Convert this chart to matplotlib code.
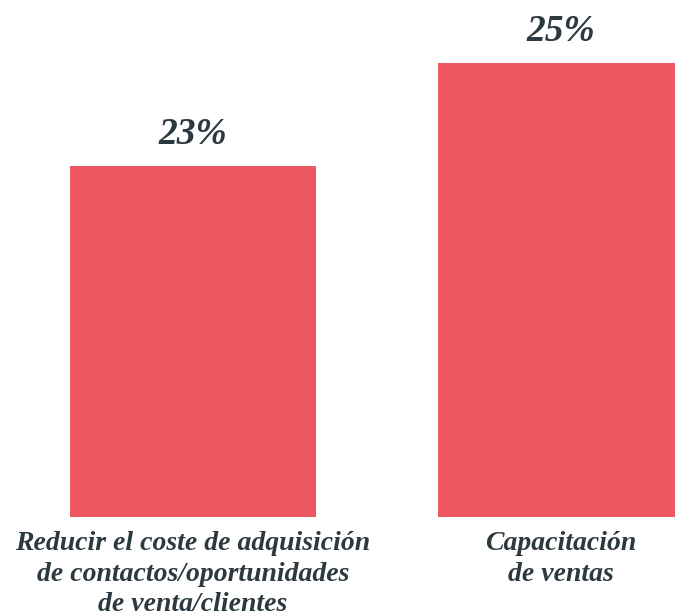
import matplotlib.pyplot as plt

# Survey results: share of respondents per goal
categories = ["Reducir el coste de adquisición\nde contactos/oportunidades\nde venta/clientes",
              "Capacitación\nde ventas"]
values = [23, 25]
value_labels = ["23%", "25%"]

bar_color = "#EC5762"
text_color = "#2C3A40"
font = ["Liberation Serif", "DejaVu Serif"]

fig = plt.figure(figsize=(6.75, 6.16), dpi=100)
ax = fig.add_axes([0, 0.1607, 1, 0.8393])

x = list(range(len(values)))
bars = ax.bar(x, values, width=0.668, color=bar_color, bottom=0)

ax.set_xlim(-0.5245, 1.3098)
ax.set_ylim(16.18, 26.22)

for rect, lab in zip(bars, value_labels):
    ax.annotate(lab, (rect.get_x() + rect.get_width() / 2, rect.get_height()),
                xytext=(0, 10), textcoords="offset points", ha="center", va="bottom",
                fontsize=27, fontstyle="italic", fontweight="bold",
                family=font, color=text_color)

ax.set_xticks(x)
ax.set_xticklabels(categories, fontsize=20, fontstyle="italic", fontweight="bold",
                   family=font, color=text_color, linespacing=1.3)
ax.tick_params(axis="x", length=0, pad=10)
ax.set_yticks([])
for s in ax.spines.values():
    s.set_visible(False)

fig.savefig("out.png", dpi=100)
